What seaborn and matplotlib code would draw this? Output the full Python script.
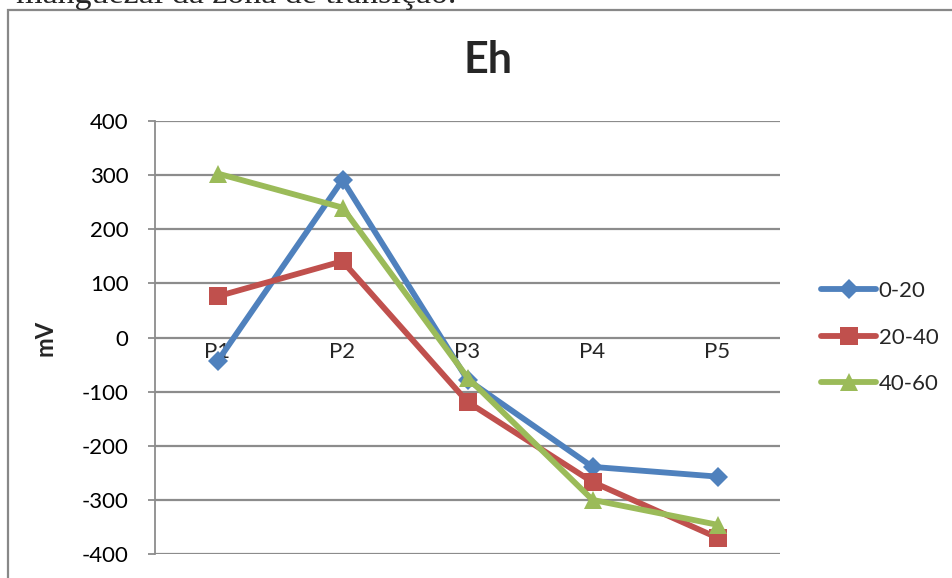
import matplotlib
matplotlib.use("Agg")
import matplotlib.pyplot as plt
from matplotlib.patches import Rectangle
import seaborn as sns
import pandas as pd

# Sampling points and depth intervals
points = ["P1", "P2", "P3", "P4", "P5"]
depths = ["0-20", "20-40", "40-60"]
eh_0_20 = [-44, 291, -78, -239, -257]
eh_20_40 = [76, 141, -119, -267, -370]
eh_40_60 = [303, 240, -74, -300, -346]
y_ticks = [-400, -300, -200, -100, 0, 100, 200, 300, 400]

df = pd.DataFrame({
    "ponto": points * 3,
    "profundidade": [d for d in depths for _ in points],
    "Eh": eh_0_20 + eh_20_40 + eh_40_60,
})
df["x"] = df["ponto"].map({p: i for i, p in enumerate(points)})

sns.set_theme(style="white")
plt.rcParams["font.family"] = ["Lato", "DejaVu Sans"]

palette = {"0-20": "#4F81BD", "20-40": "#C0504D", "40-60": "#9BBB59"}
markers = {"0-20": "D", "20-40": "s", "40-60": "^"}
msizes = {"0-20": 10, "20-40": 13, "40-60": 13}
grid_c = "#8C8C8C"
fs = 16

fig = plt.figure(figsize=(9.52, 5.78), dpi=100)
fig.patch.set_facecolor("white")
ax = fig.add_axes([155 / 952, 24 / 578, 625 / 952, 433 / 578])

for d in depths:
    sub = df[df["profundidade"] == d]
    sns.lineplot(data=sub, x="x", y="Eh", ax=ax, color=palette[d], linewidth=4.2,
                 marker=markers[d], markersize=msizes[d], markeredgewidth=0,
                 label=d, zorder=3)

ax.set_xlim(-0.5, 4.5)
ax.set_ylim(-400, 400)
ax.set_yticks(y_ticks)
ax.set_yticklabels([str(v) for v in y_ticks], fontsize=fs, color="black")
ax.set_xticks([])
ax.set_xlabel("")
ax.set_ylabel("mV", fontsize=17, fontweight="bold", labelpad=18)

ax.grid(False)
for v in y_ticks:
    ax.axhline(v, color=grid_c, linewidth=1.6, zorder=1)
for side in ["top", "right", "bottom"]:
    ax.spines[side].set_visible(False)
ax.spines["left"].set_color(grid_c)
ax.spines["left"].set_linewidth(1.3)
ax.tick_params(axis="y", which="both", left=True, length=5, width=1.3,
               color=grid_c, pad=14)

# category labels sit just below the zero line
for i, p in enumerate(points):
    ax.text(i, -8, p, ha="center", va="top", fontsize=fs, zorder=2)

fig.text(488 / 952, 1 - 60 / 578, "Eh", ha="center", va="center",
         fontsize=31, fontweight="bold")

leg = ax.legend(loc="center left", bbox_to_anchor=(1.052, 0.5), frameon=False,
                fontsize=fs, handlelength=2.45, labelspacing=1.2,
                handletextpad=0.12, borderaxespad=0)

# chart frame and the caption line above it
fig.add_artist(Rectangle((8 / 952, -0.1), 2.0, (1 - 10 / 578) + 0.1,
                         transform=fig.transFigure, fill=False,
                         edgecolor="#888888", linewidth=1.6))
fig.text(16 / 952, 1 - 3 / 578, "manguezal da zona de transição.",
         ha="left", va="baseline", fontsize=24.5, family="Liberation Serif")

fig.savefig("out.png", dpi=100, facecolor="white")
